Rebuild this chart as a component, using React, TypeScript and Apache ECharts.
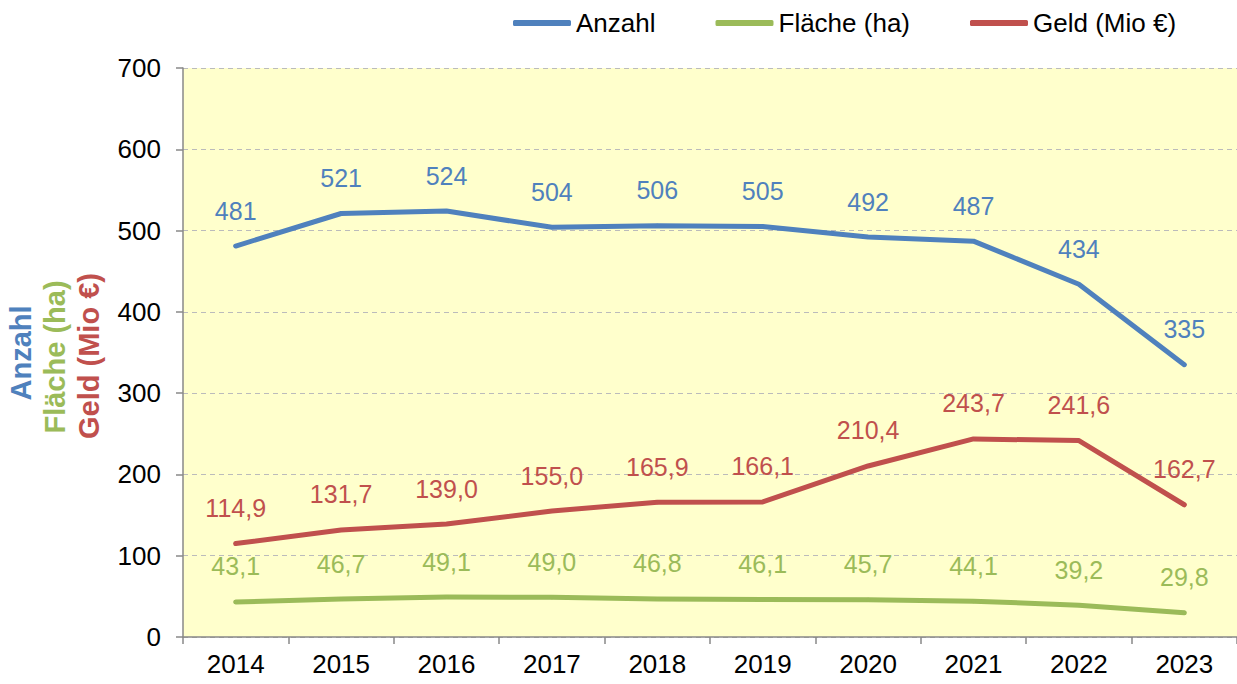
import React, { useEffect, useRef } from "react";
import * as echarts from "echarts";

const years = ["2014", "2015", "2016", "2017", "2018", "2019", "2020", "2021", "2022", "2023"];
const anzahl = [481, 521, 524, 504, 506, 505, 492, 487, 434, 335];
const flaeche = [43.1, 46.7, 49.1, 49.0, 46.8, 46.1, 45.7, 44.1, 39.2, 29.8];
const geld = [114.9, 131.7, 139.0, 155.0, 165.9, 166.1, 210.4, 243.7, 241.6, 162.7];

const BLUE = "#4F81BD";
const GREEN = "#9BBB59";
const RED = "#C0504D";
const FONT = "'Liberation Sans', Arial, sans-serif";

const fmtDec = (v: number) => v.toFixed(1).replace(".", ",");

function mkSeries(name: string, data: number[], color: string, dec: boolean) {
  return {
    name,
    type: "line",
    data,
    symbol: "circle",
    symbolSize: 4,
    showSymbol: true,
    lineStyle: { color, width: 5, cap: "round", join: "round" },
    itemStyle: { color },
    label: {
      show: true,
      position: "top",
      distance: 21,
      color,
      fontSize: 25,
      fontFamily: FONT,
      formatter: (p: any) => (dec ? fmtDec(p.value) : String(p.value)),
    },
  };
}

export default function App() {
  const ref = useRef<HTMLDivElement>(null);
  useEffect(() => {
    const chart = echarts.init(ref.current!, null, { renderer: "svg" });
    chart.setOption({
      animation: false,
      backgroundColor: "#ffffff",
      textStyle: { fontFamily: FONT },
      legend: {
        left: 508,
        top: 5,
        itemWidth: 58,
        itemHeight: 6,
        itemGap: 60,
        icon: "roundRect",
        textStyle: { fontSize: 26, color: "#000", fontFamily: FONT },
        data: ["Anzahl", "Fläche (ha)", "Geld (Mio €)"],
      },
      grid: {
        left: 183,
        right: 0,
        top: 68,
        bottom: 47,
        show: true,
        backgroundColor: "#FFFFCC",
        borderWidth: 0,
      },
      xAxis: {
        type: "category",
        data: years,
        boundaryGap: true,
        axisLine: { show: true, lineStyle: { color: "#888", width: 1.5 } },
        axisTick: { show: true, length: 7, lineStyle: { color: "#888", width: 1.5 } },
        axisLabel: { color: "#000", fontSize: 26, margin: 14, fontFamily: FONT },
      },
      yAxis: {
        type: "value",
        min: 0,
        max: 700,
        interval: 100,
        axisLine: { show: true, lineStyle: { color: "#888", width: 1.5 } },
        axisTick: { show: true, length: 7, lineStyle: { color: "#888", width: 1.5 } },
        axisLabel: { color: "#000", fontSize: 26, margin: 22, fontFamily: FONT },
        splitLine: { show: true, lineStyle: { color: "#BBBBBB", type: [5, 4], width: 1 } },
      },
      graphic: [
        {
          type: "text",
          x: 21,
          y: 353,
          rotation: Math.PI / 2,
          style: {
            text: "Anzahl",
            fill: BLUE,
            font: `bold 29px ${FONT}`,
            textAlign: "center",
            textVerticalAlign: "middle",
          },
        },
        {
          type: "text",
          x: 55,
          y: 357,
          rotation: Math.PI / 2,
          style: {
            text: "Fläche (ha)",
            fill: GREEN,
            font: `bold 29px ${FONT}`,
            textAlign: "center",
            textVerticalAlign: "middle",
          },
        },
        {
          type: "text",
          x: 89,
          y: 356,
          rotation: Math.PI / 2,
          style: {
            text: "Geld (Mio €)",
            fill: RED,
            font: `bold 29px ${FONT}`,
            textAlign: "center",
            textVerticalAlign: "middle",
          },
        },
      ],
      series: [
        mkSeries("Anzahl", anzahl, BLUE, false),
        mkSeries("Fläche (ha)", flaeche, GREEN, true),
        mkSeries("Geld (Mio €)", geld, RED, true),
      ],
    });
    return () => chart.dispose();
  }, []);
  return (
    <div
      ref={ref}
      style={{ position: "absolute", left: 0, top: 0, width: 1237, height: 684 }}
    />
  );
}
